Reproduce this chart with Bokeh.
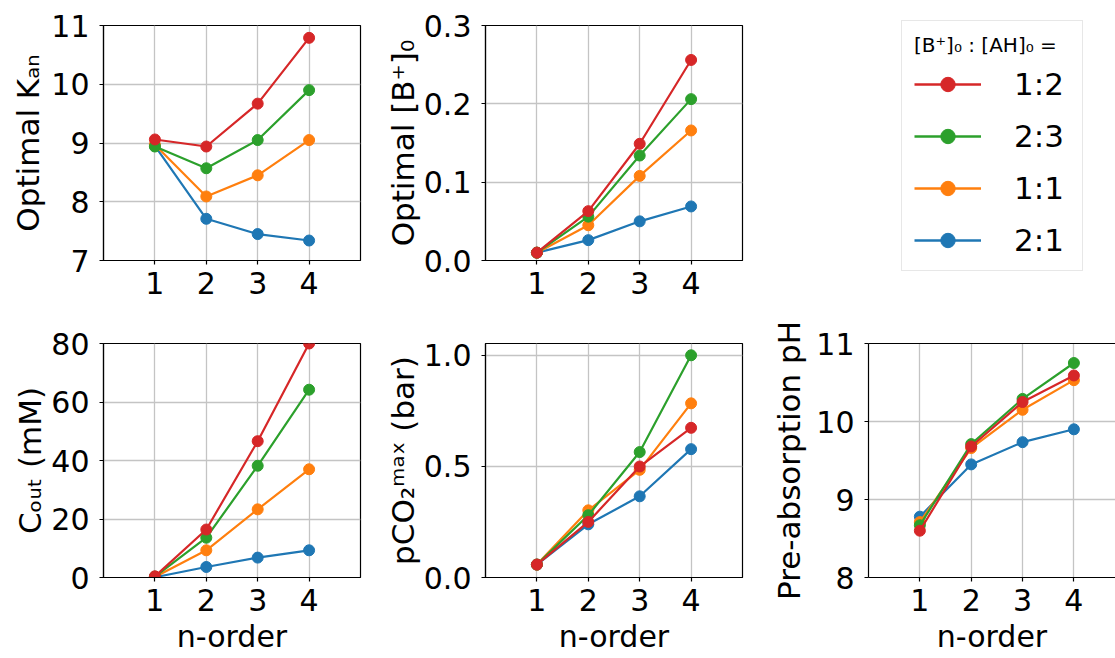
from bokeh.plotting import figure
from bokeh.models import (Range1d, FixedTicker, NumeralTickFormatter,
                          Legend, LegendItem, LinearAxis)
from bokeh.layouts import row, column
from bokeh.embed import file_html
from bokeh.resources import INLINE

# ---------------- data ----------------
n_order = [1, 2, 3, 4]
ratios_plot_order = ["2:1", "1:1", "2:3", "1:2"]
legend_order = ["1:2", "2:3", "1:1", "2:1"]
legend_title = "[B\u207a]\u2080 : [AH]\u2080 ="
colors = {"2:1": "#1f77b4", "1:1": "#ff7f0e", "2:3": "#2ca02c", "1:2": "#d62728"}

kan_1_2 = [9.06, 8.94, 9.67, 10.79]
kan_2_3 = [8.94, 8.57, 9.05, 9.90]
kan_1_1 = [8.97, 8.09, 8.45, 9.05]
kan_2_1 = [8.95, 7.71, 7.45, 7.34]

b0_1_2 = [0.010, 0.063, 0.149, 0.256]
b0_2_3 = [0.010, 0.056, 0.134, 0.206]
b0_1_1 = [0.010, 0.045, 0.108, 0.166]
b0_2_1 = [0.010, 0.026, 0.050, 0.069]

cout_1_2 = [0.4, 16.4, 46.6, 80.0]
cout_2_3 = [0.3, 13.6, 38.2, 64.2]
cout_1_1 = [0.2, 9.3, 23.3, 37.0]
cout_2_1 = [0.1, 3.6, 6.8, 9.3]

pco2_1_2 = [0.058, 0.250, 0.499, 0.673]
pco2_2_3 = [0.058, 0.280, 0.564, 0.999]
pco2_1_1 = [0.058, 0.302, 0.484, 0.783]
pco2_2_1 = [0.058, 0.239, 0.365, 0.577]

ph_1_2 = [8.60, 9.68, 10.25, 10.59]
ph_2_3 = [8.67, 9.71, 10.29, 10.75]
ph_1_1 = [8.71, 9.66, 10.15, 10.53]
ph_2_1 = [8.78, 9.45, 9.735, 9.90]

kan_ticks = [7, 8, 9, 10, 11]
b0_ticks = [0.0, 0.1, 0.2, 0.3]
cout_ticks = [0, 20, 40, 60, 80]
pco2_ticks = [0.0, 0.5, 1.0]
ph_ticks = [8, 9, 10, 11]

x_label = "n-order"
label_kan = "Optimal K\u2090\u2099"
label_b0 = "Optimal [B\u207a]\u2080"
label_cout = "C\u2092\u1d64\u209c (mM)"
label_pco2 = "pCO\u2082\u1d50\u1d43\u02e3 (bar)"
label_ph = "Pre-absorption pH"

kan = {"1:2": kan_1_2, "2:3": kan_2_3, "1:1": kan_1_1, "2:1": kan_2_1}
b0 = {"1:2": b0_1_2, "2:3": b0_2_3, "1:1": b0_1_1, "2:1": b0_2_1}
cout = {"1:2": cout_1_2, "2:3": cout_2_3, "1:1": cout_1_1, "2:1": cout_2_1}
pco2 = {"1:2": pco2_1_2, "2:3": pco2_2_3, "1:1": pco2_1_1, "2:1": pco2_2_1}
ph = {"1:2": ph_1_2, "2:3": ph_2_3, "1:1": ph_1_1, "2:1": ph_2_1}

# ---------------- styling helpers ----------------
FONT = "DejaVu Sans"
TICK_FS = "30px"
XLAB_FS = "30px"
YLAB_FS = "31px"


def make_panel(width, height, bl, br, bt, bb, x_end, yr, yticks, ylabel, ystand,
               fmt=None, xlabel=None):
    p = figure(width=width, height=height, x_range=Range1d(0, x_end),
               y_range=Range1d(*yr), output_backend="svg", toolbar_location=None,
               min_border_left=bl, min_border_right=br, min_border_top=bt,
               min_border_bottom=bb)
    p.xaxis.ticker = FixedTicker(ticks=n_order)
    p.yaxis.ticker = FixedTicker(ticks=yticks)
    if fmt:
        p.yaxis.formatter = NumeralTickFormatter(format=fmt)
    for ax in (p.xaxis[0], p.yaxis[0]):
        ax.major_tick_out = 4
        ax.major_tick_in = 0
        ax.minor_tick_out = 0
        ax.minor_tick_in = 0
        ax.axis_line_color = "black"
        ax.axis_line_width = 1.2
        ax.major_tick_line_color = "black"
        ax.major_tick_line_width = 1.2
        ax.major_label_text_font = FONT
        ax.major_label_text_font_size = TICK_FS
        ax.major_label_text_color = "black"
        ax.axis_label_text_font = FONT
        ax.axis_label_text_font_style = "normal"
        ax.axis_label_text_color = "black"
    p.xaxis.axis_label_text_font_size = XLAB_FS
    p.yaxis.axis_label_text_font_size = YLAB_FS
    p.xaxis.major_label_standoff = 7
    p.yaxis.major_label_standoff = 10
    p.yaxis.axis_label = ylabel
    p.yaxis.axis_label_standoff = ystand
    if xlabel:
        p.xaxis.axis_label = xlabel
        p.xaxis.axis_label_standoff = 5
    p.grid.grid_line_color = "#c4c4c4"
    p.grid.grid_line_width = 1.3
    p.outline_line_color = "black"
    p.outline_line_width = 1.2
    p.outline_line_alpha = 1.0
    p.background_fill_color = "white"
    p.border_fill_color = "white"
    return p


def draw_series(p, data):
    for name in ratios_plot_order:
        c = colors[name]
        p.line(x=n_order, y=data[name], line_color=c, line_width=2.2)
        p.scatter(x=n_order, y=data[name], size=11, fill_color=c, line_color=c)


TOP_H, BOT_H = 308, 350

# ---- top row ----
p1 = make_panel(380, TOP_H, 103, 20, 25, 48, 5, (7, 11), kan_ticks, label_kan, 2)
draw_series(p1, kan)
p2 = make_panel(380, TOP_H, 105, 18, 25, 48, 5, (0, 0.3), b0_ticks, label_b0, 0, "0.0")
draw_series(p2, b0)

# ---- bottom row ----
p4 = make_panel(380, BOT_H, 103, 20, 35, 81, 5, (0, 80), cout_ticks, label_cout, 0,
                xlabel=x_label)
draw_series(p4, cout)
p5 = make_panel(380, BOT_H, 105, 18, 35, 81, 5, (0, 1.052), pco2_ticks, label_pco2, 0,
                "0.0", xlabel=x_label)
draw_series(p5, pco2)
p6 = make_panel(355, BOT_H, 108, 0, 35, 81, 247 / 51.35, (8, 11), ph_ticks, label_ph, 6,
                xlabel=x_label)
p6.outline_line_color = None
top_ax = LinearAxis(ticker=FixedTicker(ticks=[]), axis_line_color="black",
                    axis_line_width=1.2, major_tick_out=0, major_tick_in=0,
                    minor_tick_out=0, minor_tick_in=0)
p6.add_layout(top_ax, "above")
draw_series(p6, ph)

# ---- legend panel (top right) ----
pl = figure(width=355, height=TOP_H, x_range=Range1d(0, 1), y_range=Range1d(0, 1),
            output_backend="svg", toolbar_location=None,
            min_border_left=108, min_border_right=0, min_border_top=0, min_border_bottom=0,
            x_axis_location=None, y_axis_location=None)
pl.grid.visible = False
pl.outline_line_color = None
pl.background_fill_color = "white"
pl.border_fill_color = "white"
items = []
for name in legend_order:
    c = colors[name]
    # series drawn far outside this blank panel's view: only their legend glyphs show
    lr = pl.line(x=n_order, y=kan[name], line_color=c, line_width=2.6)
    sr = pl.scatter(x=n_order, y=kan[name], size=12, fill_color=c, line_color=c)
    items.append(LegendItem(label=name, renderers=[lr, sr]))
leg = Legend(items=items, location=(33, 37), margin=0, title=legend_title,
             title_text_font=FONT, title_text_font_size="20px",
             title_text_font_style="normal", title_text_color="black",
             title_standoff=9,
             label_text_font=FONT, label_text_font_size="31px",
             label_text_color="black", label_standoff=33, label_width=56,
             glyph_width=67, glyph_height=36, spacing=16, padding=12,
             border_line_color="#d0d0d0", border_line_width=1.5,
             background_fill_color="white", background_fill_alpha=1.0)
pl.add_layout(leg)

layout = row(column(row(p1, p2), row(p4, p5)), column(pl, p6))
open("out.html", "w").write(file_html(layout, INLINE))
